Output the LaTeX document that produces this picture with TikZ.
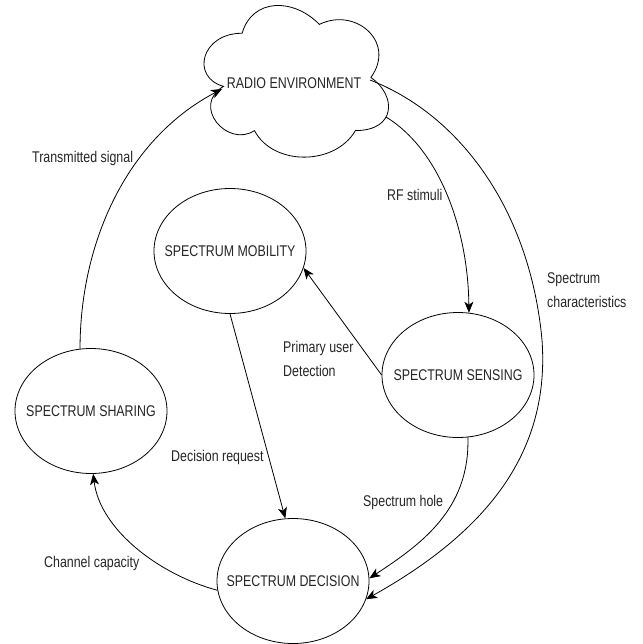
\documentclass[tikz,border=0pt]{standalone}
\usepackage{fontspec}
\setmainfont{Liberation Sans}
\usepackage{graphicx}
\usetikzlibrary{shapes.geometric,arrows.meta}
\newcommand{\nt}[1]{\scalebox{0.8}[1]{#1}}
\begin{document}
\begin{tikzpicture}[x=1pt,y=-1pt,
  every node/.style={font=\fontsize{15.5}{24}\selectfont, text=black!85},
  stateell/.style={draw, ellipse, line width=0.8pt, minimum width=152pt, minimum height=125pt, inner sep=0pt},
  lbl/.style={anchor=west, inner sep=0pt, align=left},
  conn/.style={line width=0.8pt, -{Stealth[length=11pt,width=9pt,inset=3pt]}}
]
\useasboundingbox[fill=white] (0,0) rectangle (642,644);

% cloud
\draw[line width=0.8pt, fill=white] (242.1,33.25)
  .. controls (200.9,33.25) and (190.6,77.5) .. (223.56,86.35)
  .. controls (190.6,105.82) and (227.7,148.3) .. (254.46,130.6)
  .. controls (273,166) and (334.8,166) .. (355.4,130.6)
  .. controls (396.6,130.6) and (396.6,95.2) .. (370.85,77.5)
  .. controls (396.6,42.1) and (355.4,6.7) .. (319.35,24.4)
  .. controls (293.6,-2.15) and (252.4,-2.15) .. (242.1,33.25) -- cycle;
\node[inner sep=0pt] (cloud) at (294,83) {\nt{RADIO ENVIRONMENT}};
\coordinate (clL) at (222,89);
\coordinate (clR) at (386,117);
\coordinate (clE) at (370,80);

% states (text placed as centre labels so the ellipse size is fixed)
\node[stateell, label={[inner sep=0pt]center:\nt{SPECTRUM MOBILITY}}] (mob) at (230,251) {};
\node[stateell, label={[inner sep=0pt]center:\nt{SPECTRUM SENSING}}] (sen) at (458,375) {};
\node[stateell, label={[inner sep=0pt]center:\nt{SPECTRUM SHARING}}] (sha) at (91,411) {};
\node[stateell, label={[inner sep=0pt]center:\nt{SPECTRUM DECISION}}] (dec) at (293,581) {};

% connectors
\draw[conn] (sha.100) .. controls (80,245) and (125,140) .. (clL);
\draw[conn] (clR) .. controls (440,150) and (468,230) .. (sen.80);
\draw[conn] (clE) .. controls (460,115) and (530,210) .. (542,340)
  .. controls (550,450) and (490,530) .. (dec.-14);
\draw[conn] (sen.west) -- (mob.-13);
\draw[conn] (mob.-90) -- (dec.97);
\draw[conn] (sen.-81) .. controls (470,510) and (420,545) .. (dec.2);
\draw[conn] (dec.-173) .. controls (160,575) and (100,530) .. (sha.-88);

% labels
\node[lbl] (l1) at (32,158) {\nt{Transmitted signal}};
\node[lbl] (l2) at (387,195) {\nt{RF stimuli}};
\node[lbl] (l3) at (283,358.5) {\nt{Primary user}\\\nt{Detection}};
\node[lbl] (l4) at (547,290.5) {\nt{Spectrum}\\\nt{characteristics}};
\node[lbl] (l5) at (171,457) {\nt{Decision request}};
\node[lbl] (l6) at (363,502) {\nt{Spectrum hole}};
\node[lbl] (l7) at (44,563) {\nt{Channel capacity}};
\end{tikzpicture}
\end{document}
